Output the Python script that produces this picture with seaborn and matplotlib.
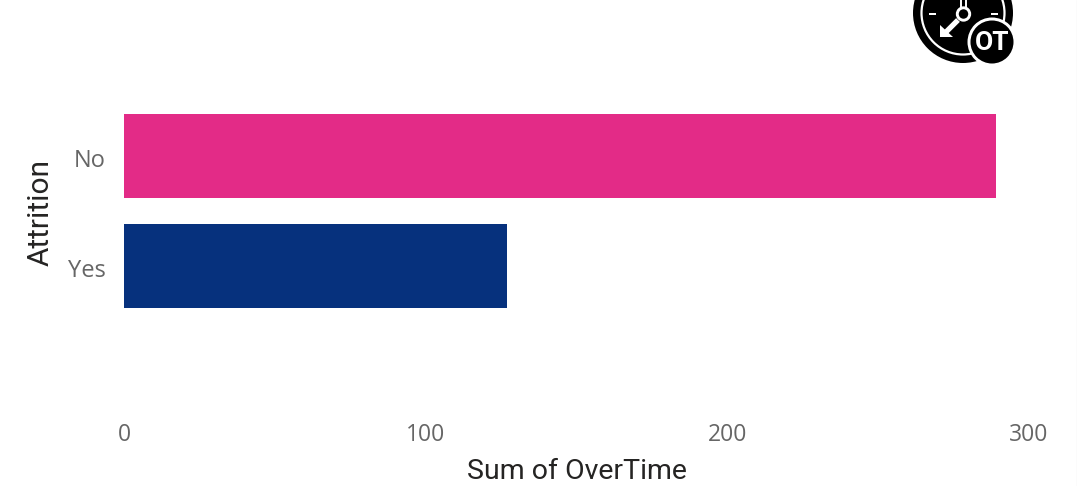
import matplotlib
matplotlib.use("Agg")
import matplotlib.pyplot as plt
from matplotlib.patches import Circle, Rectangle, Polygon
from matplotlib.transforms import ScaledTranslation
import seaborn as sns
import pandas as pd

attrition = ["No", "Yes"]
overtime = [289, 127]
bar_colors = ["#E32B87", "#06317D"]
x_ticks = [0, 100, 200, 300]

W, H = 1077, 486
sns.set_theme(style="white")
fig = plt.figure(figsize=(W / 100, H / 100), dpi=100, facecolor="white")

L, R, T, B = 124, 1029, 100, 410
ax = fig.add_axes([L / W, 1 - B / H, (R - L) / W, (B - T) / H])
df = pd.DataFrame({"Attrition": attrition, "OverTime": overtime})
sns.barplot(data=df, y="Attrition", x="OverTime", hue="Attrition", palette=bar_colors,
            order=attrition, hue_order=attrition, legend=False, width=0.764, saturation=1,
            linewidth=0, ax=ax)
ax.set_xlim(0, 300)
ax.set_ylim(2.309, -0.509)
for s in ax.spines.values():
    s.set_visible(False)
ax.set_xticks(x_ticks)
ax.tick_params(axis="both", length=0, labelsize=16.5, labelcolor="#666666")
ax.tick_params(axis="x", pad=9)
ax.tick_params(axis="y", pad=13, labelsize=17)
for t in ax.get_xticklabels():
    t.set_fontfamily("Open Sans")
for t in ax.get_yticklabels():
    t.set_fontfamily("Open Sans")
    t.set_transform(t.get_transform() + ScaledTranslation(0, -2 / 100, fig.dpi_scale_trans))
ax.set_xlabel("")
ax.set_ylabel("")
fig.text(577 / W, 1 - 471 / H, "Sum of OverTime", family="Roboto", fontsize=20.5,
         color="#252423", ha="center", va="center")
fig.text(41 / W, 1 - 212.5 / H, "Attrition", family="Roboto", fontsize=21.5,
         color="#252423", ha="center", va="center", rotation=90)

# Clock icon in pixel coordinates
ic = fig.add_axes([0, 0, 1, 1], facecolor="none")
ic.set_xlim(0, W)
ic.set_ylim(H, 0)
ic.axis("off")
ic.add_patch(Circle((963, 13), 50, fc="black", ec="none"))
ic.add_patch(Circle((963, 13), 41.5, fc="none", ec="white", lw=1.6))
ic.add_patch(Rectangle((929, 13), 6.5, 2, fc="white", ec="none"))
ic.add_patch(Rectangle((991, 13), 6.5, 2, fc="white", ec="none"))
ic.plot([961, 961], [-2, 8], color="white", lw=1.4)
ic.plot([966, 966], [-2, 8], color="white", lw=1.4)
ic.plot([958, 945], [20, 33], color="white", lw=3.8, solid_capstyle="butt")
ic.add_patch(Polygon([(940, 25), (940, 37.5), (952.5, 37.5)], closed=True, fc="white", ec="none"))
ic.add_patch(Circle((963.5, 14), 6.2, fc="black", ec="white", lw=2.1))
ic.add_patch(Circle((992, 42), 24.5, fc="white", ec="none"))
ic.add_patch(Circle((992, 42), 21.5, fc="black", ec="none"))
ic.text(992, 43, "OT", family=["Liberation Sans Narrow", "Roboto"], weight="bold", fontsize=19,
        color="white", ha="center", va="center")
ic.plot([1076.5, 1076.5], [0, H], color="#EFEFEF", lw=1)

fig.savefig("out.png", dpi=100, facecolor="white")
